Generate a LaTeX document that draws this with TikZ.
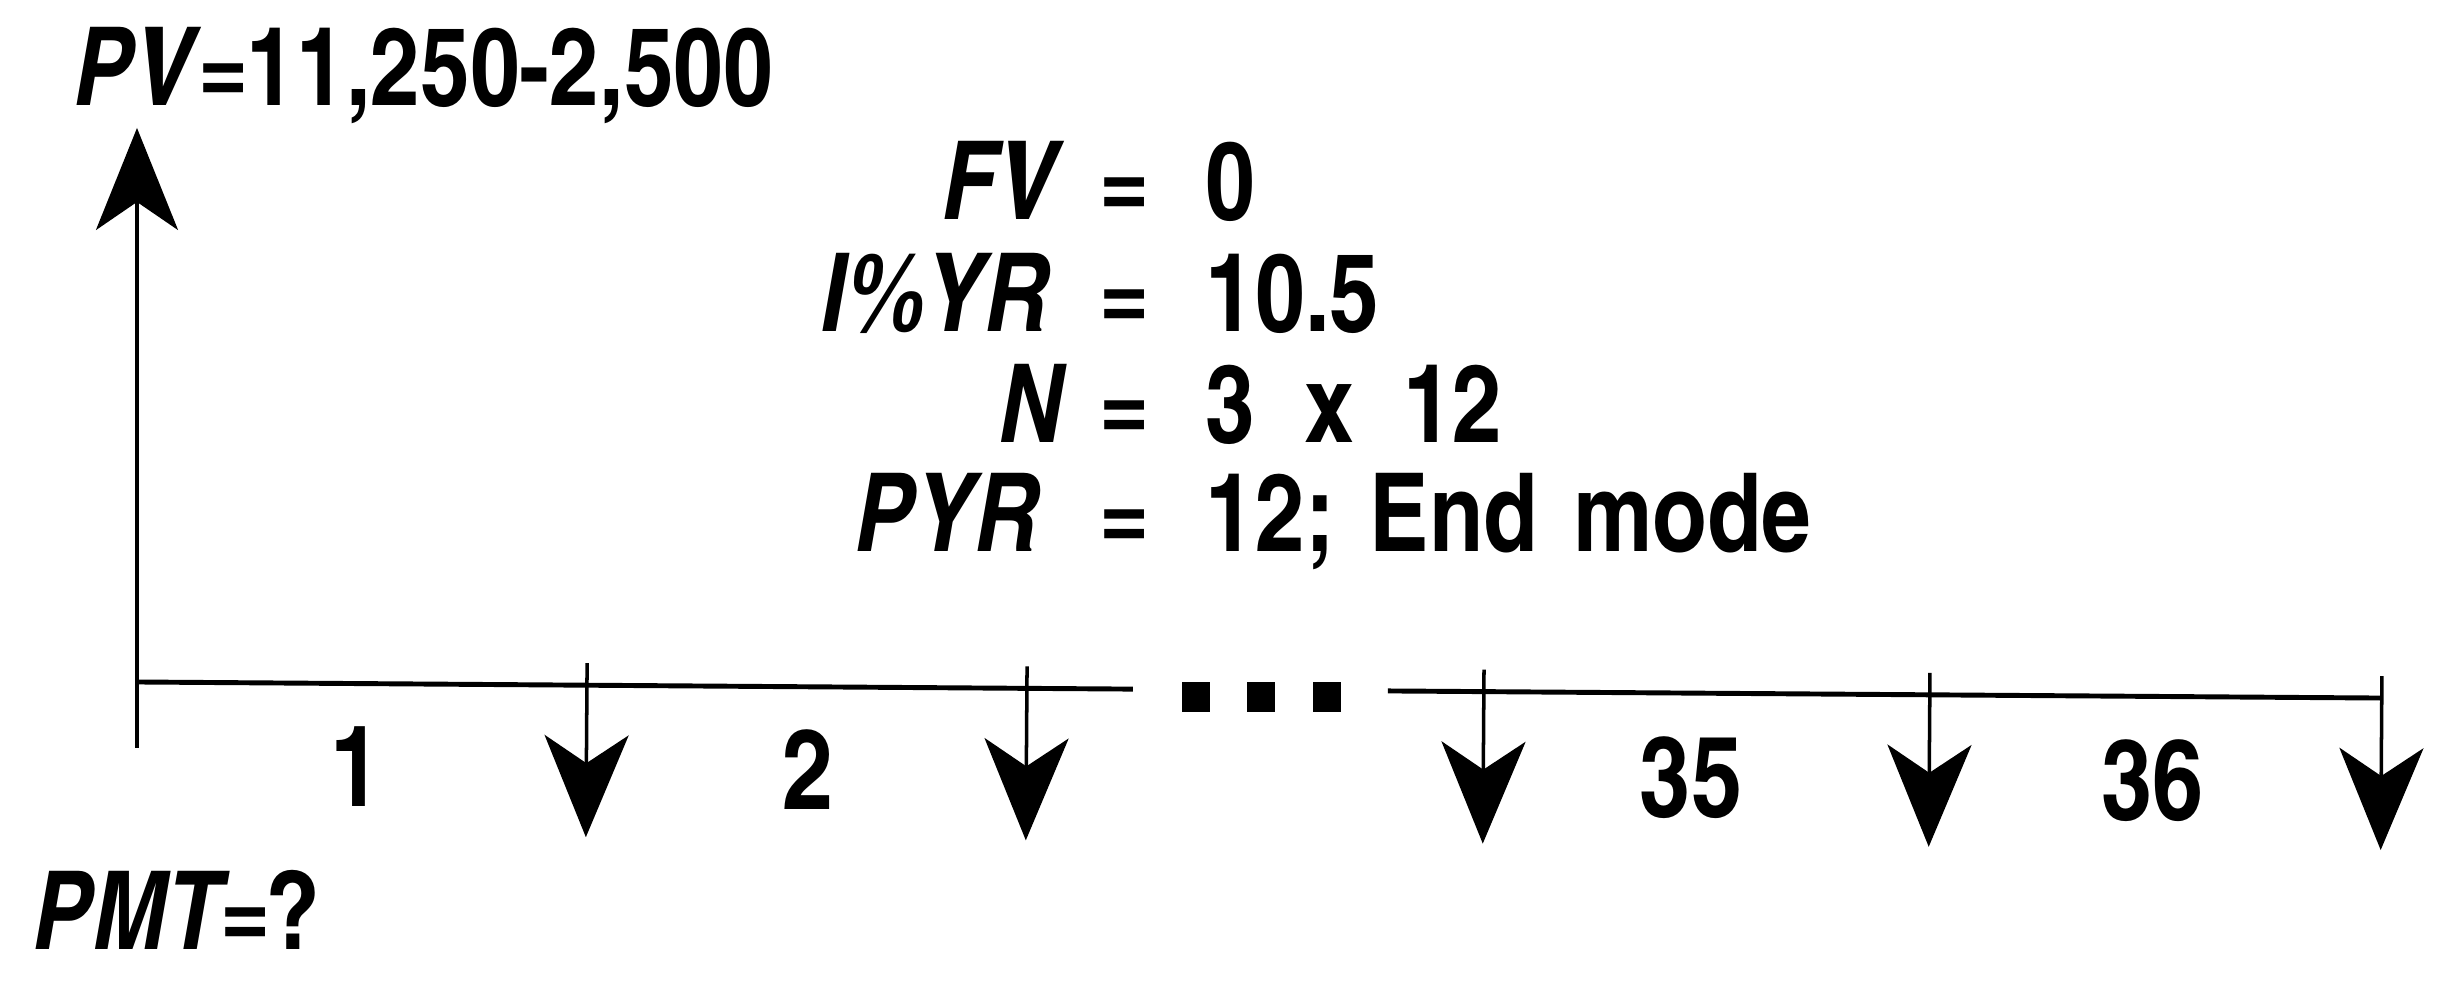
\documentclass[tikz,border=0pt]{standalone}
\usepackage{fontspec}
\setmainfont{TeX Gyre Heros Cn}
\usetikzlibrary{arrows.meta}

\begin{document}
\begin{tikzpicture}[
  x=1cm,y=1cm,
  every node/.style={inner sep=0pt},
  bigtxt/.style={font=\bfseries\fontsize{31}{36}\selectfont},
  lbl/.style={font=\bfseries\fontsize{31}{36}\selectfont},
  numtxt/.style={font=\bfseries\fontsize{32}{36}\selectfont},
  axisline/.style={black, line width=1.4pt},
  flow/.style={black, line width=1.0pt, -{Stealth[length=10.2mm,width=8.4mm,inset=2.8mm]}},
  inflow/.style={black, line width=1.0pt, -{Stealth[length=10.2mm,width=8.2mm,inset=2.8mm]}},
  dotbox/.style={fill=black, minimum width=2.8mm, minimum height=3.0mm}
]
\useasboundingbox (0,0) rectangle (24.41,9.82);

% ----------------------------- Time line -----------------------------
% the scanned line drops a little to the right
\begin{scope}[rotate around={-0.41:(1.38,3.00)}]
  \coordinate (t0) at (1.38,3.00);
  \coordinate (gapL) at (11.33,3.00);
  \coordinate (gapR) at (13.88,3.00);
  \coordinate (tend) at (23.82,3.00);
  \draw[axisline] (t0) -- (gapL);
  \draw[axisline] (gapR) -- (tend);
  \node[dotbox] (dot1) at (11.96,2.93) {};
  \node[dotbox] (dot2) at (12.61,2.93) {};
  \node[dotbox] (dot3) at (13.27,2.93) {};

  % Monthly payments.
  \foreach \p/\x in {1/5.87, 2/10.27, 34/14.84, 35/19.30, 36/23.82}
    {
      \coordinate (top\p) at (\x,3.22);
      \coordinate (tip\p) at (\x,1.48);
      \draw[flow] (top\p) -- (tip\p);
    }
  \node[numtxt, anchor=base] (per1) at (3.57,1.77) {1};
  \node[numtxt, anchor=base] (per2) at (8.09,1.77) {2};
  \node[numtxt, anchor=base] (per35) at (16.92,1.77) {35};
  \node[numtxt, anchor=base] (per36) at (21.54,1.77) {36};
\end{scope}

% Loan amount received at time 0.
\coordinate (pvfoot) at (1.37,2.34);
\coordinate (pvtip) at (1.37,8.54);
\draw[inflow] (pvfoot) -- (pvtip);
\node[lbl, anchor=base west] (pv) at (0.73,8.76) {\textit{PV}\kern-1pt=\kern-1pt11,250-2,500};
\node[lbl, anchor=base west] (pmt) at (0.32,0.32) {\textit{PMT}\kern-3pt=\kern-2pt?};

% ----------------------------- Inputs -----------------------------
\node[bigtxt, anchor=base east] (fvL) at (10.65,7.62) {\textit{FV}};
\node[bigtxt, anchor=base] (fvE) at (11.25,7.62) {=};
\node[bigtxt, anchor=base west] (fvR) at (12.05,7.62) {0};

\node[bigtxt, anchor=base east] (iyrL) at (10.51,6.50) {\textit{I\%YR}};
\node[bigtxt, anchor=base] (iyrE) at (11.25,6.50) {=};
\node[bigtxt, anchor=base west] (iyrR) at (12.05,6.50) {10.5};

\node[bigtxt, anchor=base east] (nL) at (10.68,5.39) {\textit{N}};
\node[bigtxt, anchor=base] (nE) at (11.25,5.39) {=};
\node[bigtxt, anchor=base west] (nR) at (12.05,5.39) {3\hspace{0.45em}x\hspace{0.45em}12};

\node[bigtxt, anchor=base east] (pyrL) at (10.41,4.30) {\textit{PYR}};
\node[bigtxt, anchor=base] (pyrE) at (11.25,4.30) {=};
\node[bigtxt, anchor=base west] (pyrR) at (12.05,4.30) {12;\hspace{0.32em}End\hspace{0.32em}mode};

\end{tikzpicture}
\end{document}
